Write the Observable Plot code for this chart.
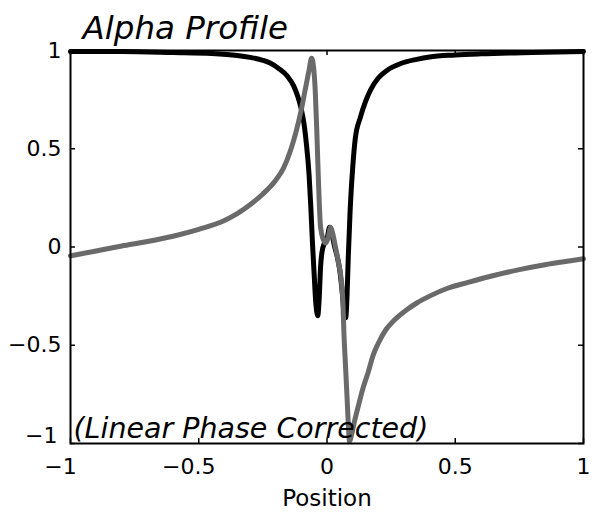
<!DOCTYPE html>
<html>
<head>
<meta charset="utf-8">
<script src="https://cdn.jsdelivr.net/npm/d3@7"></script>
<script src="https://cdn.jsdelivr.net/npm/@observablehq/plot@0.6"></script>
<style>
  html, body { margin: 0; padding: 0; background: #fff; }
</style>
</head>
<body>
<div id="chart"></div>
<script>
// Black curve (real part)
const blackX = [-1.0, -0.8, -0.6, -0.45, -0.35, -0.30, -0.25, -0.22, -0.19, -0.155, -0.13, -0.115, -0.10, -0.09, -0.08, -0.07, -0.063, -0.057, -0.05, -0.045, -0.04, -0.036, -0.03, -0.025, -0.02, -0.01, 0.00, 0.01, 0.02, 0.03, 0.04, 0.05, 0.06, 0.067, 0.073, 0.078, 0.083, 0.09, 0.10, 0.11, 0.13, 0.15, 0.17, 0.20, 0.235, 0.29, 0.35, 0.40, 0.50, 0.60, 0.80, 1.00];
const blackY = [0.995, 0.995, 0.99, 0.985, 0.975, 0.965, 0.95, 0.935, 0.91, 0.87, 0.82, 0.77, 0.70, 0.63, 0.52, 0.37, 0.20, 0.03, -0.14, -0.26, -0.33, -0.35, -0.25, -0.10, -0.03, 0.02, 0.04, 0.10, 0.06, 0.0, -0.05, -0.12, -0.24, -0.34, -0.36, -0.25, -0.05, 0.18, 0.40, 0.55, 0.66, 0.74, 0.80, 0.86, 0.90, 0.935, 0.955, 0.967, 0.977, 0.983, 0.99, 0.995];

// Gray curve (imaginary part)
const grayX = [-1.0, -0.9, -0.8, -0.7, -0.6, -0.5, -0.4, -0.35, -0.3, -0.25, -0.2, -0.17, -0.14, -0.12, -0.10, -0.085, -0.07, -0.06, -0.052, -0.046, -0.04, -0.035, -0.03, -0.025, -0.015, -0.005, 0.005, 0.014, 0.022, 0.033, 0.045, 0.055, 0.062, 0.066, 0.072, 0.078, 0.083, 0.088, 0.095, 0.105, 0.12, 0.14, 0.16, 0.18, 0.20, 0.23, 0.26, 0.30, 0.35, 0.40, 0.47, 0.55, 0.65, 0.75, 0.85, 0.95, 1.0];
const grayY = [-0.045, -0.02, 0.005, 0.028, 0.055, 0.09, 0.135, 0.17, 0.215, 0.27, 0.34, 0.40, 0.50, 0.59, 0.70, 0.80, 0.90, 0.96, 0.91, 0.80, 0.60, 0.40, 0.22, 0.10, 0.04, 0.02, 0.05, 0.10, 0.07, 0.0, -0.08, -0.16, -0.28, -0.44, -0.60, -0.76, -0.90, -0.99, -0.96, -0.90, -0.82, -0.72, -0.64, -0.55, -0.49, -0.42, -0.375, -0.33, -0.285, -0.25, -0.21, -0.18, -0.145, -0.115, -0.09, -0.07, -0.06];

const xTicks = [-1, -0.5, 0, 0.5, 1];
const xTickLabels = ["\u22121", "\u22120.5", "0", "0.5", "1"];
const yTicks = [-1, -0.5, 0, 0.5, 1];
const yTickLabels = ["\u22121", "\u22120.5", "0", "0.5", "1"];

const titleText = "Alpha Profile";
const noteText = "(Linear Phase Corrected)";
const xLabel = "Position";

const black = blackX.map((x, i) => ({x, y: blackY[i]}));
const gray = grayX.map((x, i) => ({x, y: grayY[i]}));

const W = 596, H = 515;
const mL = 70, mR = 13, mT = 50, mB = 72;
const fw = W - mL - mR, fh = H - mT - mB;
const tick = 5;

const xFmt = d => xTickLabels[xTicks.indexOf(d)];
const yFmt = d => yTickLabels[yTicks.indexOf(d)];
const xNeg = xTicks.filter(d => d < 0);
const xPos = xTicks.filter(d => d >= 0);
const yLow = yTicks.filter(d => d === -1);
const yRest = yTicks.filter(d => d !== -1);

const chart = Plot.plot({
  width: W,
  height: H,
  marginLeft: mL,
  marginRight: mR,
  marginTop: mT,
  marginBottom: mB,
  style: {fontFamily: "DejaVu Sans", background: "#fff", color: "#000"},
  x: {domain: [-1, 1]},
  y: {domain: [-1, 1]},
  marks: [
    Plot.line(black, {x: "x", y: "y", stroke: "#000", strokeWidth: 5, curve: "monotone-x"}),
    Plot.line(gray, {x: "x", y: "y", stroke: "#6a6a6a", strokeWidth: 5, curve: "monotone-x"}),
    Plot.frame({stroke: "#000", strokeWidth: 2}),
    // inward ticks
    Plot.tickX(xTicks, {x: d => d, insetTop: fh - tick, stroke: "#000", strokeWidth: 1.5}),
    Plot.tickX(xTicks, {x: d => d, insetBottom: fh - tick, stroke: "#000", strokeWidth: 1.5}),
    Plot.tickY(yTicks, {y: d => d, insetRight: fw - tick, stroke: "#000", strokeWidth: 1.5}),
    Plot.tickY(yTicks, {y: d => d, insetLeft: fw - tick, stroke: "#000", strokeWidth: 1.5}),
    // tick labels
    Plot.axisX(xNeg, {anchor: "bottom", tickSize: 0, tickPadding: 15, tickFormat: xFmt, fontSize: 22, dx: -10, label: null}),
    Plot.axisX(xPos, {anchor: "bottom", tickSize: 0, tickPadding: 15, tickFormat: xFmt, fontSize: 22, label: null}),
    Plot.axisY(yRest, {anchor: "left", tickSize: 0, tickPadding: 9, tickFormat: yFmt, fontSize: 22, label: null}),
    Plot.axisY(yLow, {anchor: "left", tickSize: 0, tickPadding: 13, tickFormat: yFmt, fontSize: 22, dy: -8, label: null}),
    // texts
    Plot.text([titleText], {frameAnchor: "top-left", text: d => d, dx: 12, dy: -12, lineAnchor: "bottom", textAnchor: "start", fontSize: 32.5, fontStyle: "italic", fill: "#000"}),
    Plot.text([noteText], {frameAnchor: "bottom-left", text: d => d, dx: 3, dy: -6, lineAnchor: "bottom", textAnchor: "start", fontSize: 28.5, fontStyle: "italic", fill: "#000"}),
    Plot.text([xLabel], {frameAnchor: "bottom", text: d => d, dy: 62, lineAnchor: "bottom", fontSize: 23, fill: "#000"})
  ]
});
document.getElementById("chart").appendChild(chart);
</script>
</body>
</html>
